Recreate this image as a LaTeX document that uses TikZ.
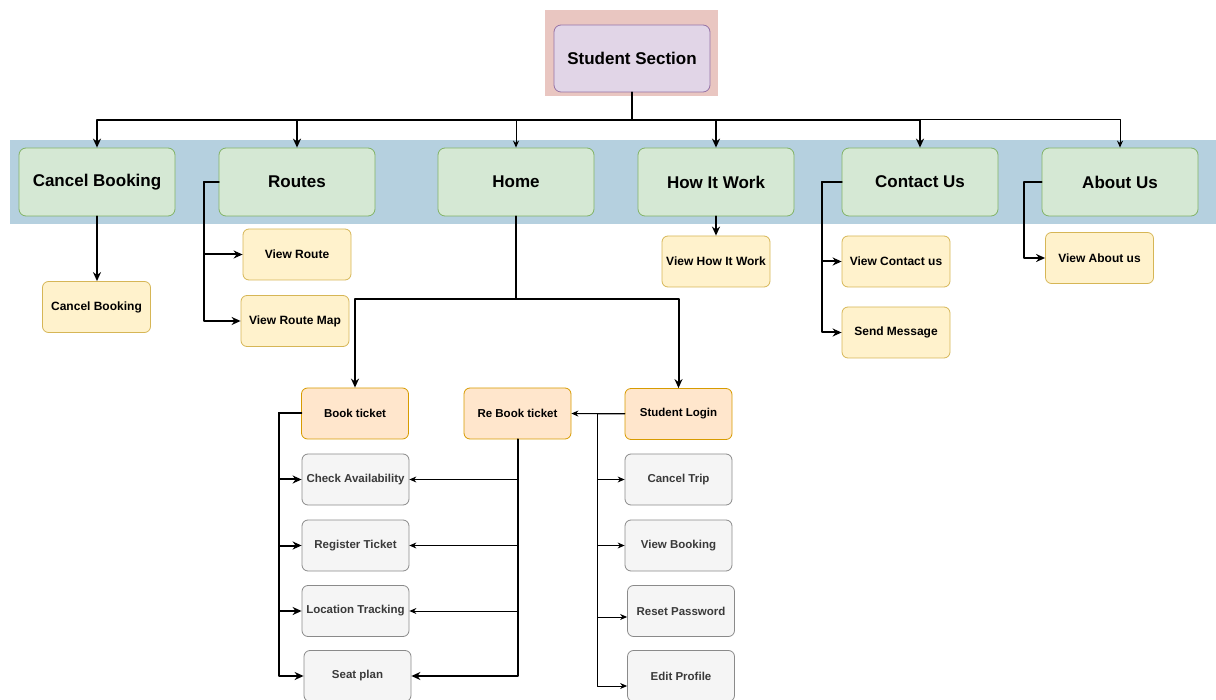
\documentclass[tikz,border=0pt]{standalone}
\usepackage{fontspec}
\setmainfont{Liberation Sans}
\usepackage{pgf,tikz}
\usetikzlibrary{arrows}
\usetikzlibrary{arrows.meta}
\usetikzlibrary{positioning}
\definecolor{pinkbg}{HTML}{E9C6C1}
\definecolor{bandbg}{HTML}{B5D0DF}
\definecolor{lilac}{HTML}{E1D5E7}
\definecolor{lilacline}{HTML}{9673A6}
\definecolor{greenfill}{HTML}{D5E8D4}
\definecolor{greenline}{HTML}{82B366}
\definecolor{yellowfill}{HTML}{FFF2CC}
\definecolor{yellowline}{HTML}{D6B656}
\definecolor{orangefill}{HTML}{FFE6CC}
\definecolor{orangeline}{HTML}{D79B00}
\definecolor{grayfill}{HTML}{F5F5F5}
\definecolor{grayline}{HTML}{8A8A8A}
\definecolor{graytext}{HTML}{3A3A3A}
\begin{document}
\begin{tikzpicture}[line cap=round,line join=round,x=1pt,y=-1pt,
  >={Stealth[length=9pt,width=8pt]},
  box/.style={draw,line width=0.8pt,rounded corners=7pt,align=center,inner sep=0pt},
  rootbox/.style={box,fill=lilac,draw=lilacline,minimum width=156pt,minimum height=67pt,font=\bfseries\fontsize{17}{20}\selectfont},
  menubox/.style={box,fill=greenfill,draw=greenline,minimum width=156pt,minimum height=68pt,font=\bfseries\fontsize{17}{20}\selectfont},
  pagebox/.style={box,rounded corners=6pt,fill=yellowfill,draw=yellowline,minimum width=108pt,minimum height=51pt,font=\bfseries\fontsize{12}{14}\selectfont},
  actbox/.style={box,rounded corners=6pt,fill=orangefill,draw=orangeline,minimum width=107pt,minimum height=51pt,font=\bfseries\fontsize{11.5}{14}\selectfont},
  taskbox/.style={box,rounded corners=6pt,fill=grayfill,draw=grayline,text=graytext,minimum width=107pt,minimum height=51pt,font=\bfseries\fontsize{11.5}{14}\selectfont},
  ln/.style={line width=2pt},
  tn/.style={line width=1pt,>={Stealth[length=7pt,width=6pt]}}]
\useasboundingbox (0,0) rectangle (1216,700);
\fill [pinkbg] (545,10) rectangle (718,96);
\fill [bandbg] (10,140) rectangle (1216,224);
\node [rootbox] (ss) at (632,58.5) {Student Section};
\node [menubox] (cancel) at (97,182) {Cancel Booking};
\node [menubox] (routes) at (297,182) {Routes};
\node [menubox] (home) at (516,182) {Home};
\node [menubox] (how) at (716,182) {How It Work};
\node [menubox] (contact) at (920,182) {Contact Us};
\node [menubox] (about) at (1120,182) {About Us};
\node [pagebox] (cancelpage) at (96.5,307) {Cancel Booking};
\node [pagebox] (viewroute) at (297,254.5) {View Route};
\node [pagebox] (routemap) at (295,321) {View Route Map};
\node [pagebox] (viewhow) at (716,261.5) {View How It Work};
\node [pagebox] (viewcontact) at (896,261.5) {View Contact us};
\node [pagebox] (sendmsg) at (896,332.5) {Send Message};
\node [pagebox] (viewabout) at (1099.5,258) {View About us};
\node [actbox] (book) at (355,413.5) {Book ticket};
\node [actbox] (rebook) at (517.5,413.5) {Re Book ticket};
\node [actbox] (login) at (678.5,414) {Student Login};
\node [taskbox] (check) at (355.5,479.5) {Check Availability};
\node [taskbox] (register) at (355.5,545.5) {Register Ticket};
\node [taskbox] (track) at (355.5,611) {Location Tracking};
\node [taskbox] (seat) at (357.5,676) {Seat plan};
\node [taskbox] (trip) at (678.5,479.5) {Cancel Trip};
\node [taskbox] (viewbook) at (678.5,545.5) {View Booking};
\node [taskbox] (reset) at (681,611) {Reset Password};
\node [taskbox] (edit) at (681,676) {Edit Profile};
\coordinate (bus) at (632,120);
\coordinate (homejoin) at (516,299);
\draw [ln] (ss.south) -- (bus);
\draw [ln,->] (bus) -| (cancel.north);
\draw [ln,->] (bus) -| (routes.north);
\draw [tn,->] (bus) -| (home.north);
\draw [ln,->] (bus) -| (how.north);
\draw [ln,->] (bus) -| (contact.north);
\draw [tn,->] (bus) -| (about.north);
\draw [ln,->] (cancel.south) -- (cancel.south |- cancelpage.north);
\draw [ln,->] (routes.west) -- ++(-15,0) |- (viewroute.west);
\draw [ln,->] (routes.west) -- ++(-15,0) |- (routemap.west);
\draw [ln,->] (how.south) -- (viewhow.north);
\draw [ln,->] (contact.west) -- ++(-20,0) |- (viewcontact.west);
\draw [ln,->] (contact.west) -- ++(-20,0) |- (sendmsg.west);
\draw [ln,->] (about.west) -- ++(-18,0) |- (viewabout.west);
\draw [ln] (home.south) -- (homejoin);
\draw [ln,->] (homejoin) -| (book.north);
\draw [ln,->] (homejoin) -| (login.north);
\draw [ln,->] (book.west) -- ++(-22,0) |- (check.west);
\draw [ln,->] (book.west) -- ++(-22,0) |- (register.west);
\draw [ln,->] (book.west) -- ++(-22,0) |- (track.west);
\draw [ln,->] (book.west) -- ++(-22,0) |- (seat.west);
\draw [tn,->] (rebook.south) |- (check.east);
\draw [tn,->] (rebook.south) |- (register.east);
\draw [tn,->] (rebook.south) |- (track.east);
\draw [ln,->] (rebook.south) |- (seat.east);
\draw [tn,->] (login.west) -- (rebook.east);
\draw [tn,->] (login.west) -- ++(-27,0) |- (trip.west);
\draw [tn,->] (login.west) -- ++(-27,0) |- (viewbook.west);
\draw [tn,->] (login.west) -- ++(-27,0) |- ([yshift=-6pt]reset.west);
\draw [tn,->] (login.west) -- ++(-27,0) |- ([yshift=-10pt]edit.west);
\end{tikzpicture}
\end{document}
